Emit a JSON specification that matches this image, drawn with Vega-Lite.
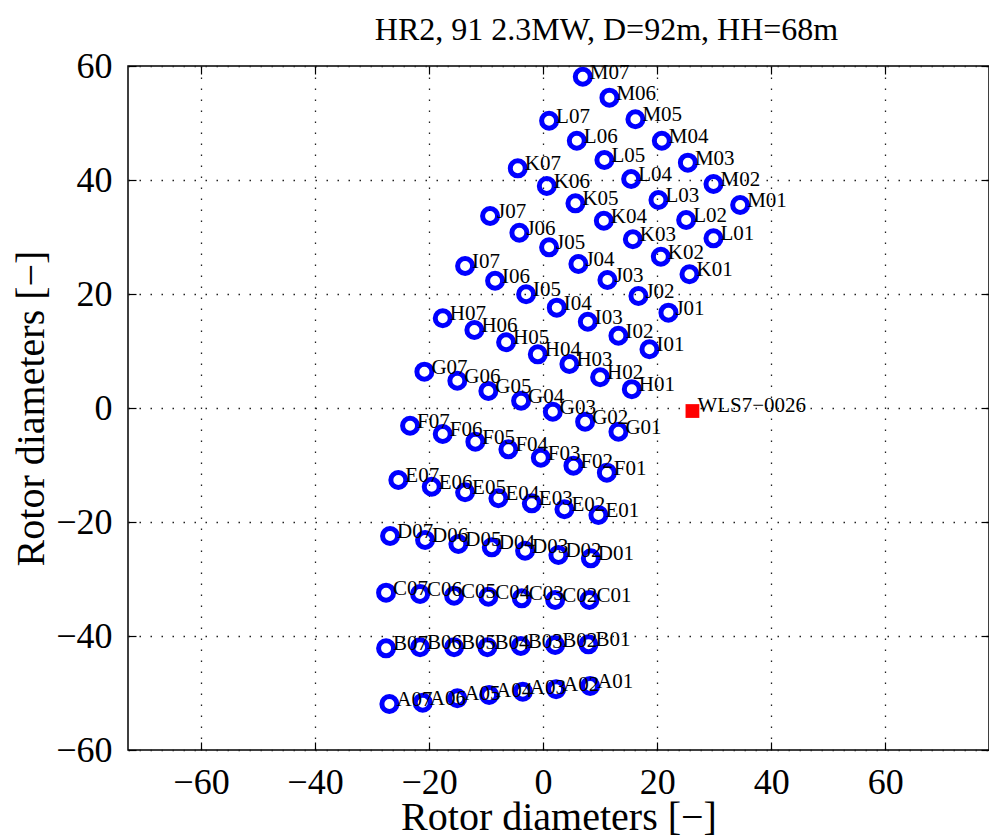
{
  "$schema": "https://vega.github.io/schema/vega-lite/v6.json",
  "width": 861,
  "height": 684,
  "autosize": {"type": "none"},
  "padding": {"left": 128, "top": 66, "right": 0, "bottom": 88},
  "background": "white",
  "resolve": {"axis": {"x": "independent", "y": "independent"}},
  "config": {
    "view": {"stroke": "#000", "strokeWidth": 1.5},
    "axis": {"labelFont": "Liberation Serif", "labelFontSize": 36, "labelColor": "#000", "titleFont": "Liberation Serif", "titleFontSize": 40, "titleFontWeight": "normal", "titleColor": "#000", "domain": false, "tickColor": "#000", "tickWidth": 1.2, "tickSize": -8, "gridColor": "#222", "gridDash": [1.5, 9.5], "gridWidth": 1.3, "gridOpacity": 1}
  },
  "datasets": {
    "turbines": [
      {"n": "A01", "x": 8.25, "y": -48.77}, {"n": "A02", "x": 2.28, "y": -49.35}, {"n": "A03", "x": -3.56, "y": -49.77}, {"n": "A04", "x": -9.47, "y": -50.35}, {"n": "A05", "x": -15.04, "y": -50.93}, {"n": "A06", "x": -21.11, "y": -51.7}, {"n": "A07", "x": -26.96, "y": -51.93},
      {"n": "B01", "x": 7.95, "y": -41.46}, {"n": "B02", "x": 2.11, "y": -41.58}, {"n": "B03", "x": -3.91, "y": -41.75}, {"n": "B04", "x": -9.77, "y": -41.98}, {"n": "B05", "x": -15.61, "y": -41.98}, {"n": "B06", "x": -21.58, "y": -41.98}, {"n": "B07", "x": -27.54, "y": -42.16},
      {"n": "C01", "x": 8.12, "y": -33.68}, {"n": "C02", "x": 2.11, "y": -33.68}, {"n": "C03", "x": -3.74, "y": -33.39}, {"n": "C04", "x": -9.6, "y": -33.11}, {"n": "C05", "x": -15.61, "y": -32.93}, {"n": "C06", "x": -21.58, "y": -32.63}, {"n": "C07", "x": -27.54, "y": -32.4},
      {"n": "D01", "x": 8.37, "y": -26.37}, {"n": "D02", "x": 2.68, "y": -25.79}, {"n": "D03", "x": -3.16, "y": -25.04}, {"n": "D04", "x": -9.0, "y": -24.44}, {"n": "D05", "x": -14.86, "y": -23.86}, {"n": "D06", "x": -20.7, "y": -23.16}, {"n": "D07", "x": -26.84, "y": -22.46},
      {"n": "E01", "x": 9.7, "y": -18.77}, {"n": "E02", "x": 3.74, "y": -17.77}, {"n": "E03", "x": -1.98, "y": -16.72}, {"n": "E04", "x": -7.84, "y": -15.84}, {"n": "E05", "x": -13.68, "y": -14.79}, {"n": "E06", "x": -19.53, "y": -13.81}, {"n": "E07", "x": -25.39, "y": -12.63},
      {"n": "F01", "x": 11.18, "y": -11.35}, {"n": "F02", "x": 5.32, "y": -10.12}, {"n": "F03", "x": -0.4, "y": -8.72}, {"n": "F04", "x": -6.09, "y": -7.25}, {"n": "F05", "x": -11.88, "y": -5.91}, {"n": "F06", "x": -17.6, "y": -4.56}, {"n": "F07", "x": -23.33, "y": -3.11},
      {"n": "G01", "x": 13.21, "y": -4.16}, {"n": "G02", "x": 7.37, "y": -2.4}, {"n": "G03", "x": 1.7, "y": -0.65}, {"n": "G04", "x": -3.86, "y": 1.28}, {"n": "G05", "x": -9.6, "y": 2.98}, {"n": "G06", "x": -15.04, "y": 4.79}, {"n": "G07", "x": -20.82, "y": 6.37},
      {"n": "H01", "x": 15.56, "y": 3.3}, {"n": "H02", "x": 10.0, "y": 5.39}, {"n": "H03", "x": 4.61, "y": 7.72}, {"n": "H04", "x": -0.93, "y": 9.42}, {"n": "H05", "x": -6.49, "y": 11.53}, {"n": "H06", "x": -12.05, "y": 13.68}, {"n": "H07", "x": -17.6, "y": 15.74},
      {"n": "I01", "x": 18.65, "y": 10.3}, {"n": "I02", "x": 13.21, "y": 12.68}, {"n": "I03", "x": 7.84, "y": 15.14}, {"n": "I04", "x": 2.4, "y": 17.6}, {"n": "I05", "x": -2.98, "y": 19.95}, {"n": "I06", "x": -8.42, "y": 22.33}, {"n": "I07", "x": -13.68, "y": 24.91},
      {"n": "J01", "x": 21.98, "y": 16.72}, {"n": "J02", "x": 16.72, "y": 19.65}, {"n": "J03", "x": 11.28, "y": 22.46}, {"n": "J04", "x": 6.19, "y": 25.26}, {"n": "J05", "x": 1.05, "y": 28.19}, {"n": "J06", "x": -4.16, "y": 30.75}, {"n": "J07", "x": -9.3, "y": 33.68},
      {"n": "K01", "x": 25.67, "y": 23.46}, {"n": "K02", "x": 20.65, "y": 26.54}, {"n": "K03", "x": 15.74, "y": 29.6}, {"n": "K04", "x": 10.65, "y": 32.86}, {"n": "K05", "x": 5.67, "y": 35.91}, {"n": "K06", "x": 0.65, "y": 38.95}, {"n": "K07", "x": -4.44, "y": 42.05},
      {"n": "L01", "x": 29.88, "y": 29.77}, {"n": "L02", "x": 25.09, "y": 32.98}, {"n": "L03", "x": 20.23, "y": 36.49}, {"n": "L04", "x": 15.44, "y": 40.18}, {"n": "L05", "x": 10.75, "y": 43.51}, {"n": "L06", "x": 5.91, "y": 46.89}, {"n": "L07", "x": 1.05, "y": 50.4},
      {"n": "M01", "x": 34.56, "y": 35.61}, {"n": "M02", "x": 29.88, "y": 39.3}, {"n": "M03", "x": 25.39, "y": 43.04}, {"n": "M04", "x": 20.82, "y": 46.89}, {"n": "M05", "x": 16.19, "y": 50.65}, {"n": "M06", "x": 11.63, "y": 54.44}, {"n": "M07", "x": 6.96, "y": 58.12}
    ],
    "wls": [{"n": "WLS7−0026", "x": 26.19, "y": -0.53}]
  },
  "layer": [
    {
      "data": {"name": "turbines"},
      "mark": {"type": "point", "shape": "circle", "filled": false, "stroke": "#0000ff", "strokeWidth": 5, "size": 225, "opacity": 1},
      "encoding": {
        "x": {"field": "x", "type": "quantitative", "scale": {"domain": [-72.8, 78.2], "nice": false, "zero": false}, "axis": {"orient": "bottom", "values": [-60, -40, -20, 0, 20, 40, 60], "grid": true, "labelPadding": 23, "title": "Rotor diameters [−]", "titleBaseline": "alphabetic", "titleY": 79}},
        "y": {"field": "y", "type": "quantitative", "scale": {"domain": [-60, 60], "nice": false, "zero": false}, "axis": {"orient": "left", "values": [-60, -40, -20, 0, 20, 40, 60], "grid": true, "labelPadding": 24, "title": "Rotor diameters [−]", "titleBaseline": "alphabetic", "titleX": -85, "titleAngle": -90}}
      }
    },
    {
      "data": {"name": "turbines"},
      "mark": {"type": "text", "font": "Liberation Serif", "fontSize": 21, "color": "#000", "align": "left", "baseline": "alphabetic", "dx": 7, "dy": 2},
      "encoding": {
        "x": {"field": "x", "type": "quantitative", "axis": {"orient": "top", "values": [-60, -40, -20, 0, 20, 40, 60], "labels": false, "grid": false, "title": "HR2, 91 2.3MW, D=92m, HH=68m", "titleFontSize": 32, "titleBaseline": "alphabetic", "titleY": -27, "titleX": 478, "titleAlign": "center"}},
        "y": {"field": "y", "type": "quantitative", "axis": {"orient": "right", "values": [-60, -40, -20, 0, 20, 40, 60], "labels": false, "grid": false, "title": null}},
        "text": {"field": "n"}
      }
    },
    {
      "data": {"name": "wls"},
      "mark": {"type": "square", "filled": true, "color": "#ff0000", "size": 190, "opacity": 1},
      "encoding": {
        "x": {"field": "x", "type": "quantitative", "axis": null},
        "y": {"field": "y", "type": "quantitative", "axis": null}
      }
    },
    {
      "data": {"name": "wls"},
      "mark": {"type": "text", "font": "Liberation Serif", "fontSize": 21, "color": "#000", "align": "left", "baseline": "alphabetic", "dx": 5, "dy": 1},
      "encoding": {
        "x": {"field": "x", "type": "quantitative", "axis": null},
        "y": {"field": "y", "type": "quantitative", "axis": null},
        "text": {"field": "n"}
      }
    }
  ]
}
